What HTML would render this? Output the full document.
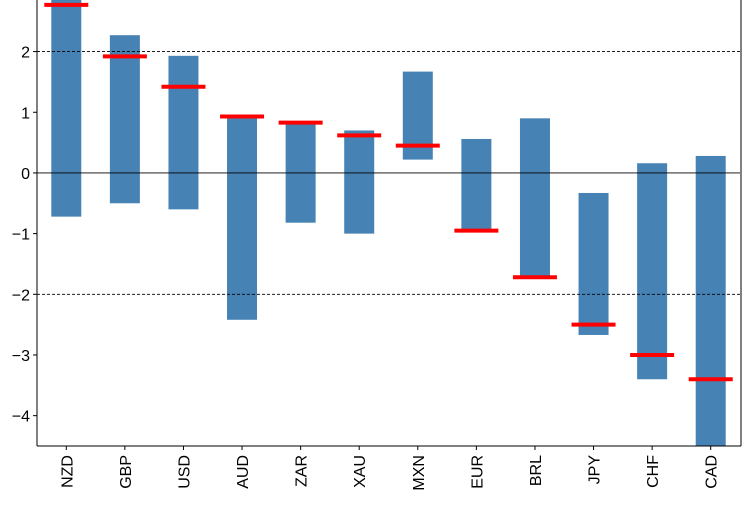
<!DOCTYPE html>
<html><head><meta charset="utf-8"><style>
body{margin:0;background:#fff;}
svg text{font-family:"Liberation Sans",sans-serif;font-size:16px;fill:#000;}
</style></head><body>
<svg id="chart" width="748" height="505" xmlns="http://www.w3.org/2000/svg"></svg>
<script>
const categories=["NZD","GBP","USD","AUD","ZAR","XAU","MXN","EUR","BRL","JPY","CHF","CAD"];
const lows=[-0.72,-0.5,-0.6,-2.42,-0.82,-1.0,0.22,-0.95,-1.72,-2.67,-3.4,-4.6];
const highs=[2.9,2.27,1.93,0.93,0.83,0.7,1.67,0.56,0.9,-0.33,0.16,0.28];
const currents=[2.77,1.92,1.42,0.93,0.83,0.62,0.45,-0.95,-1.72,-2.5,-3.0,-3.4];
const yTicks=[-4,-3,-2,-1,0,1,2];
const yTickLabels=["\u22124","\u22123","\u22122","\u22121","0","1","2"];
const svg=document.getElementById('chart');
const NS="http://www.w3.org/2000/svg";
const L=37,R=740,T=0,B=446,yMin=-4.5,yMax=2.85;
const step=(R-L)/categories.length;
const x=i=>L+(i+0.5)*step;
const y=v=>B-(v-yMin)/(yMax-yMin)*(B-T);
function mk(tag,a){const e=document.createElementNS(NS,tag);for(const k in a)e.setAttribute(k,a[k]);svg.appendChild(e);return e;}
const clip=document.createElementNS(NS,'clipPath');clip.setAttribute('id','pc');
const cr=document.createElementNS(NS,'rect');cr.setAttribute('x',L);cr.setAttribute('y',T);cr.setAttribute('width',R-L);cr.setAttribute('height',B-T);clip.appendChild(cr);svg.appendChild(clip);
const g=mk('g',{'clip-path':'url(#pc)'});


categories.forEach((c,i)=>{
  const r=document.createElementNS(NS,'rect');
  r.setAttribute('x',x(i)-15);r.setAttribute('width',30);
  r.setAttribute('y',y(highs[i]));r.setAttribute('height',y(lows[i])-y(highs[i]));
  r.setAttribute('fill','#4682b4');
  
  
  g.appendChild(r);
});
[2,-2].forEach(v=>{const l=document.createElementNS(NS,'line');l.setAttribute('x1',L);l.setAttribute('x2',R);l.setAttribute('y1',y(v));l.setAttribute('y2',y(v));l.setAttribute('stroke','#000');l.setAttribute('stroke-width',0.8);l.setAttribute('stroke-dasharray','3,2');


g.appendChild(l);});
const z=document.createElementNS(NS,'line');z.setAttribute('x1',L);z.setAttribute('x2',R);z.setAttribute('y1',y(0));z.setAttribute('y2',y(0));z.setAttribute('stroke','#000');z.setAttribute('stroke-width',0.8);


g.appendChild(z);
categories.forEach((c,i)=>{
  const l=document.createElementNS(NS,'line');
  l.setAttribute('x1',x(i)-22);l.setAttribute('x2',x(i)+22);
  l.setAttribute('y1',y(currents[i]));l.setAttribute('y2',y(currents[i]));
  l.setAttribute('stroke','#ff0000');l.setAttribute('stroke-width',4);
  
  
  g.appendChild(l);
});
let ax=mk('line',{x1:L,x2:L,y1:T,y2:B,stroke:'#000','stroke-width':1});


ax=mk('line',{x1:L,x2:R+1,y1:B,y2:B,stroke:'#000','stroke-width':1});


ax=mk('line',{x1:R+1,x2:R+1,y1:T,y2:B,stroke:'#000','stroke-width':1});


yTicks.forEach((v,i)=>{
  mk('line',{x1:L-4,x2:L,y1:y(v),y2:y(v),stroke:'#000'});
  const t=mk('text',{x:L-7,y:y(v)+6,'text-anchor':'end'});
  t.textContent=yTickLabels[i];
  
  
});
categories.forEach((c,i)=>{
  mk('line',{x1:x(i),x2:x(i),y1:B,y2:B+4,stroke:'#000'});
  const t=mk('text',{transform:`translate(${x(i)+6},${B+9}) rotate(-90)`,'text-anchor':'end'});
  t.textContent=c;
  
  
});
</script>
</body></html>
